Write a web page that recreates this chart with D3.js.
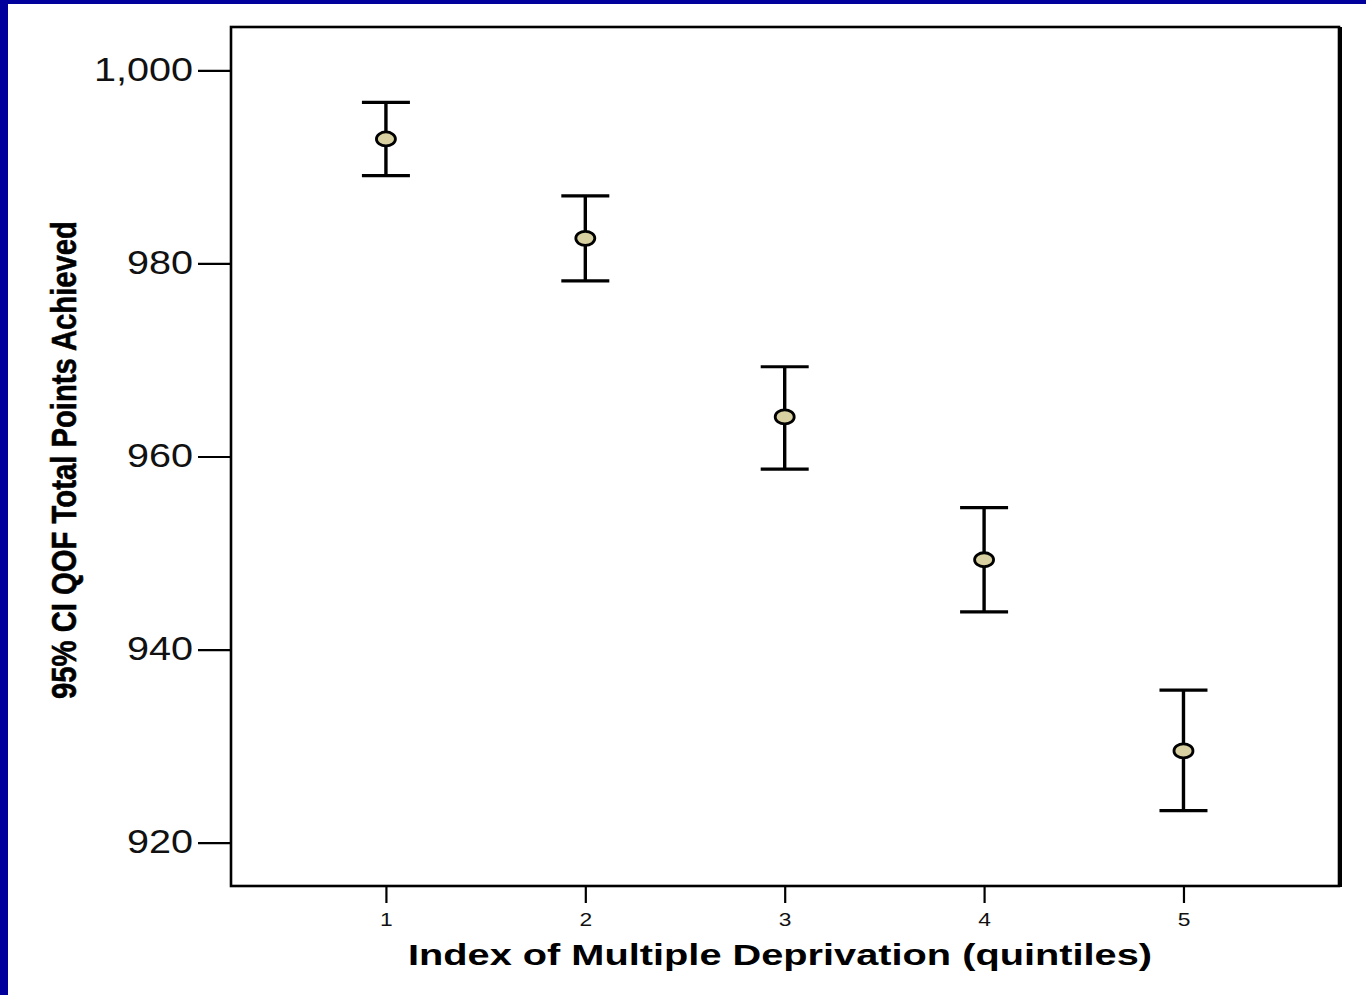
<!DOCTYPE html>
<html>
<head>
<meta charset="utf-8">
<script src="https://cdn.jsdelivr.net/npm/d3@7"></script>
<style>
  body { margin: 0; background: #fff; }
  svg { display: block; }
</style>
</head>
<body>
<div id="chart"></div>
<script>
// quintile means and 95% CI bounds
var quintiles = [1, 2, 3, 4, 5];
var means = [992.9, 982.6, 964.1, 949.3, 929.5];
var upper = [996.7, 987.0, 969.3, 954.7, 935.8];
var lower = [989.1, 978.2, 958.7, 943.9, 923.3];
var yTicks = [920, 940, 960, 980, 1000];

var W = 1366, H = 995;
var box = {left: 231, top: 27, right: 1339, bottom: 886};

var svg = d3.select("#chart").append("svg")
    .attr("width", W)
    .attr("height", H);

// blue frame (top + left)
svg.append("rect").attr("x", 0).attr("y", 0).attr("width", W).attr("height", 4).attr("fill", "#00009c");
svg.append("rect").attr("x", 0).attr("y", 0).attr("width", 8).attr("height", H).attr("fill", "#00009c");

var x = d3.scaleLinear()
    .domain([0.223, 5.78])
    .range([box.left, box.right]);

var y = d3.scaleLinear()
    .domain([915.5, 1004.5])
    .range([box.bottom, box.top]);

var g = svg.append("g");

// y axis
var yAxis = g.append("g")
    .attr("transform", "translate(" + box.left + ",0)")
    .call(d3.axisLeft(y).tickValues(yTicks).tickSize(33).tickFormat(d3.format(",d")));
yAxis.select(".domain").remove();
yAxis.selectAll(".tick line").attr("stroke", "#000").attr("stroke-width", 2.2);
// labels in the original are a bit stretched sideways
yAxis.selectAll(".tick text")
    .attr("x", 0)
    .attr("dy", "0.3em")
    .attr("transform", "translate(-38,0) scale(1.2,1)")
    .attr("fill", "#111")
    .style("font-family", "Liberation Sans, Arial, sans-serif")
    .style("font-size", "33px");

// x axis
var xAxis = g.append("g")
    .attr("transform", "translate(0," + box.bottom + ")")
    .call(d3.axisBottom(x).tickValues(quintiles).tickSize(17).tickFormat(d3.format("d")));
xAxis.select(".domain").remove();
xAxis.selectAll(".tick line").attr("stroke", "#000").attr("stroke-width", 2.2);
xAxis.selectAll(".tick text")
    .attr("y", 0)
    .attr("dy", 0)
    .attr("transform", "translate(0,40) scale(1.2,1)")
    .attr("fill", "#111")
    .style("font-family", "Liberation Sans, Arial, sans-serif")
    .style("font-size", "19px");

// plot frame
g.append("rect")
    .attr("x", box.left)
    .attr("y", box.top)
    .attr("width", box.right - box.left)
    .attr("height", box.bottom - box.top)
    .attr("fill", "none")
    .attr("stroke", "#000")
    .attr("stroke-width", 2.6);
g.append("line")
    .attr("x1", box.right + 2).attr("x2", box.right + 2)
    .attr("y1", box.top).attr("y2", box.bottom + 1)
    .attr("stroke", "#000").attr("stroke-width", 2);

// error bars
var bars = g.selectAll(".bar")
    .data(quintiles)
    .enter().append("g")
    .attr("class", "bar");

bars.append("line")
    .attr("x1", function(d) { return x(d); })
    .attr("x2", function(d) { return x(d); })
    .attr("y1", function(d, i) { return y(upper[i]); })
    .attr("y2", function(d, i) { return y(lower[i]); })
    .attr("stroke", "#000").attr("stroke-width", 3.4);

bars.append("line")
    .attr("x1", function(d) { return x(d) - 24; })
    .attr("x2", function(d) { return x(d) + 24; })
    .attr("y1", function(d, i) { return y(upper[i]); })
    .attr("y2", function(d, i) { return y(upper[i]); })
    .attr("stroke", "#000").attr("stroke-width", 3.2);

bars.append("line")
    .attr("x1", function(d) { return x(d) - 24; })
    .attr("x2", function(d) { return x(d) + 24; })
    .attr("y1", function(d, i) { return y(lower[i]); })
    .attr("y2", function(d, i) { return y(lower[i]); })
    .attr("stroke", "#000").attr("stroke-width", 3.2);

bars.append("ellipse")
    .attr("cx", function(d) { return x(d); })
    .attr("cy", function(d, i) { return y(means[i]); })
    .attr("rx", 9.5)
    .attr("ry", 7)
    .attr("fill", "#d8d0a0")
    .attr("stroke", "#000")
    .attr("stroke-width", 2.8);

// axis titles
svg.append("text")
    .attr("x", (box.left + box.right) / 2 - 5)
    .attr("y", 965)
    .attr("text-anchor", "middle")
    .attr("textLength", 744)
    .attr("lengthAdjust", "spacingAndGlyphs")
    .style("font-family", "Liberation Sans, Arial, sans-serif")
    .style("font-weight", "bold")
    .style("font-size", "30px")
    .text("Index of Multiple Deprivation (quintiles)");

svg.append("text")
    .attr("transform", "translate(76,460) rotate(-90)")
    .attr("text-anchor", "middle")
    .attr("textLength", 478)
    .attr("lengthAdjust", "spacingAndGlyphs")
    .attr("stroke", "#000")
    .attr("stroke-width", 0.6)
    .style("font-family", "Liberation Sans Narrow, Arial Narrow, Liberation Sans, sans-serif")
    .style("font-weight", "bold")
    .style("font-size", "35px")
    .text("95% CI QOF Total Points Achieved");
</script>
</body>
</html>
